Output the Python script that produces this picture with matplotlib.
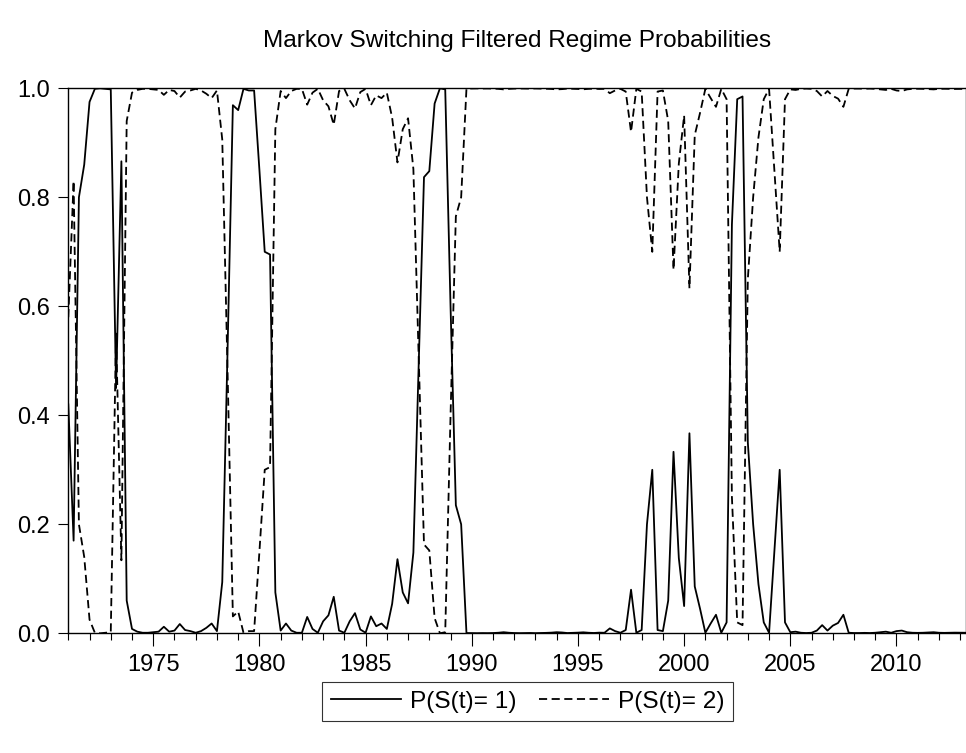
import numpy as np
import matplotlib.pyplot as plt

plt.rcParams['font.family'] = ['Liberation Sans', 'DejaVu Sans']

# quarterly filtered probability of regime 1, 1971Q1 .. 2013Q2
p1 = [0.42, 0.17, 0.80, 0.86, 0.975, 0.999, 1.0, 0.999, 0.998, 0.45,
      0.866, 0.06, 0.008, 0.003, 0.001, 0.001, 0.002, 0.003, 0.012, 0.003,
      0.005, 0.017, 0.006, 0.004, 0.001, 0.004, 0.010, 0.018, 0.004, 0.094,
      0.52, 0.969, 0.96, 0.999, 0.996, 0.996, 0.85, 0.70, 0.695, 0.075,
      0.005, 0.018, 0.005, 0.001, 0.001, 0.030, 0.008, 0.001, 0.022, 0.033,
      0.067, 0.005, 0.001, 0.022, 0.037, 0.007, 0.001, 0.031, 0.013, 0.018,
      0.008, 0.054, 0.136, 0.075, 0.055, 0.148, 0.49, 0.837, 0.848, 0.972,
      1.0, 0.998, 0.60, 0.235, 0.20, 0.0005, 0.0003, 0.0002, 0.0004, 0.0003,
      0.0005, 0.001, 0.002, 0.001, 0.0005, 0.0003, 0.0004, 0.0006, 0.0003, 0.0005,
      0.0008, 0.0012, 0.002, 0.0015, 0.0005, 0.0008, 0.0012, 0.0018, 0.001, 0.0006,
      0.0012, 0.001, 0.009, 0.004, 0.001, 0.006, 0.080, 0.001, 0.006, 0.20,
      0.30, 0.006, 0.004, 0.060, 0.333, 0.138, 0.050, 0.367, 0.086, 0.045,
      0.001, 0.018, 0.034, 0.001, 0.020, 0.75, 0.98, 0.985, 0.35, 0.20,
      0.09, 0.02, 0.001, 0.15, 0.30, 0.02, 0.002, 0.003, 0.001, 0.0005,
      0.001, 0.005, 0.015, 0.005, 0.014, 0.019, 0.034, 0.001, 0.0005, 0.0005,
      0.0008, 0.0005, 0.001, 0.002, 0.003, 0.001, 0.004, 0.005, 0.002, 0.001,
      0.0008, 0.001, 0.0015, 0.002, 0.001, 0.0008, 0.001, 0.0012, 0.001, 0.001]
p1 = np.array(p1)
p2 = 1 - p1
t = 1971 + 0.25 * np.arange(len(p1))

year_ticks = np.arange(1975, 2011, 5)

W, H = 966, 753
fig = plt.figure(figsize=(W / 100, H / 100), dpi=100)
ax = fig.add_axes([68.3 / W, 1 - 633.3 / H, (965.5 - 68.3) / W, (633.3 - 88.3) / H])

ax.plot(t, p1, color='black', lw=1.3, label='P(S(t)= 1)')
ax.plot(t, p2, color='black', lw=1.3, dashes=(4.5, 2.5), label='P(S(t)= 2)')

ax.set_xlim(t[0], t[-1])
ax.set_ylim(0, 1)
ax.set_yticks(np.arange(0, 1.01, 0.2))
ax.set_yticklabels([f'{v:.1f}' for v in np.arange(0, 1.01, 0.2)])
ax.set_xticks(year_ticks)
ax.set_xticklabels([str(y) for y in year_ticks])
ax.set_xticks(np.arange(1971, 2014), minor=True)

ax.tick_params(axis='both', direction='out', labelsize=17, width=0.8, color='black')
ax.tick_params(axis='y', length=7.5, pad=6)
ax.tick_params(axis='x', which='major', length=9, pad=6)
ax.tick_params(axis='x', which='minor', length=5, width=0.8)
for s in ax.spines.values():
    s.set_linewidth(1.0)

fig.text(516.7 / W, 1 - 41 / H, 'Markov Switching Filtered Regime Probabilities',
         ha='center', va='center', fontsize=17.6)

leg = fig.legend(loc='center', bbox_to_anchor=(527.5 / W, 1 - 701.5 / H), ncol=2,
                 fontsize=17.6, frameon=True, fancybox=False, edgecolor='black',
                 handlelength=2.9, handletextpad=0.35, columnspacing=0.9,
                 borderpad=0.35, borderaxespad=0)
leg.get_frame().set_linewidth(0.8)

fig.savefig('out.png', dpi=100)
